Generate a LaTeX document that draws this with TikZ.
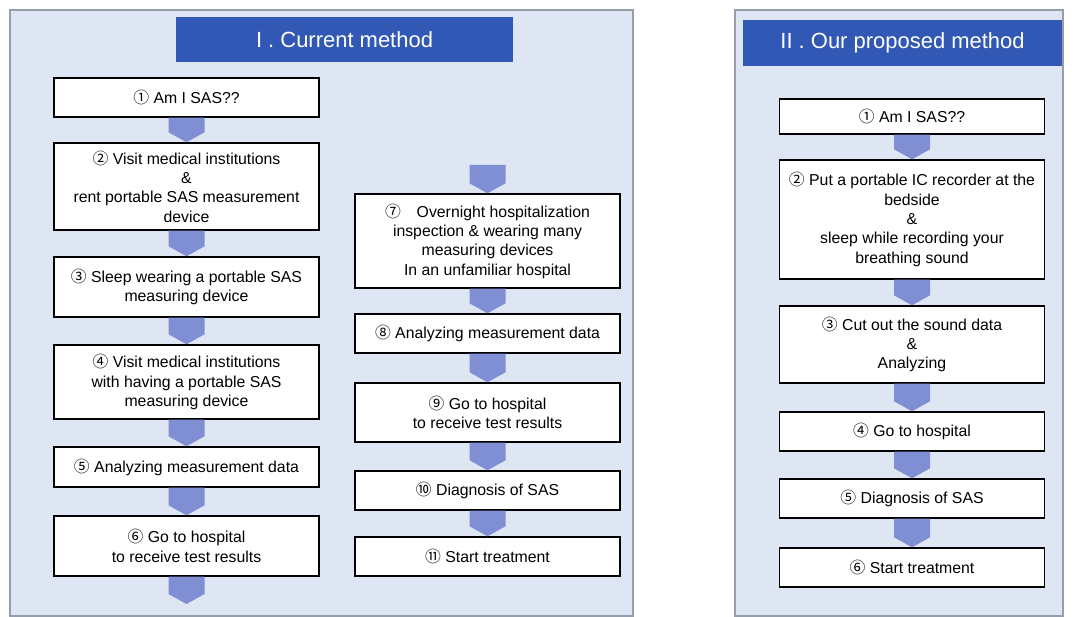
\documentclass[tikz,border=0pt]{standalone}
\usepackage{fontspec}
\setmainfont{Liberation Sans}
\newfontfamily\numfont{Noto Sans CJK JP}
\usetikzlibrary{calc}

\definecolor{barblue}{RGB}{48,88,180}
\definecolor{panelbg}{RGB}{222,230,243}
\definecolor{chevblue}{RGB}{128,142,212}
\definecolor{framegray}{RGB}{150,158,172}

\newcommand{\cn}[1]{{\numfont #1}}
% block arrow from one box down to the next
\newcommand{\chev}[2]{\fill[chevron] ($(#1)+(-18,0)$) -- ($(#1)+(18,0)$) -- ($(#2)+(18,-10)$) -- (#2) -- ($(#2)+(-18,-10)$) -- cycle;}

\tikzset{
  stepbox/.style={draw, thick, fill=white, minimum width=5.3cm, align=center,
    font=\fontsize{9}{11}\selectfont, inner sep=1pt},
  titlebar/.style={fill=barblue, text=white, font=\fontsize{12.5}{14}\selectfont},
  panel/.style={draw=framegray, thick, fill=panelbg},
  chevron/.style={fill=chevblue}
}

\begin{document}
\begin{tikzpicture}[x=0.02cm,y=-0.02cm]
    \useasboundingbox (0,0) rectangle (1078,617);

    % Current method
    \draw[panel] (10,10) rectangle (633,616);
    \node[titlebar, minimum width=6.74cm, minimum height=0.9cm] (t1) at (344.5,39.5) {I . Current method};

    \node[stepbox, minimum height=0.78cm] (l1) at (186.5,97.5) {\cn{①} Am I SAS??};
    \node[stepbox, minimum height=1.74cm] (l2) at (186.5,186.5) {\cn{②} Visit medical institutions\\ \&\\ rent portable SAS measurement\\ device};
    \node[stepbox, minimum height=1.2cm] (l3) at (186.5,287) {\cn{③} Sleep wearing a portable SAS\\ measuring device};
    \node[stepbox, minimum height=1.48cm] (l4) at (186.5,382) {\cn{④} Visit medical institutions\\ with having a portable SAS\\ measuring device};
    \node[stepbox, minimum height=0.8cm] (l5) at (186.5,467) {\cn{⑤} Analyzing measurement data};
    \node[stepbox, minimum height=1.2cm] (l6) at (186.5,546) {\cn{⑥} Go to hospital\\ to receive test results};
    \coordinate (l6end) at (186.5,604);

    \coordinate (l7top) at (487.5,165);
    \node[stepbox, minimum height=1.88cm] (l7) at (487.5,241) {\cn{⑦}\quad Overnight hospitalization\\ inspection \& wearing many\\ measuring devices\\ In an unfamiliar hospital};
    \node[stepbox, minimum height=0.78cm] (l8) at (487.5,333.5) {\cn{⑧} Analyzing measurement data};
    \node[stepbox, minimum height=1.18cm] (l9) at (487.5,412.5) {\cn{⑨} Go to hospital\\ to receive test results};
    \node[stepbox, minimum height=0.78cm] (l10) at (487.5,490.5) {\cn{⑩} Diagnosis of SAS};
    \node[stepbox, minimum height=0.78cm] (l11) at (487.5,556.5) {\cn{⑪} Start treatment};

    \chev{l1.south}{l2.north}
    \chev{l2.south}{l3.north}
    \chev{l3.south}{l4.north}
    \chev{l4.south}{l5.north}
    \chev{l5.south}{l6.north}
    \chev{l6.south}{l6end}
    \chev{l7top}{l7.north}
    \chev{l7.south}{l8.north}
    \chev{l8.south}{l9.north}
    \chev{l9.south}{l10.north}
    \chev{l10.south}{l11.north}

    % Proposed method
    \draw[panel] (735,10) rectangle (1063,616);
    \node[titlebar, minimum width=6.38cm, minimum height=0.92cm] (t2) at (902.5,43) {II . Our proposed method};

    \node[stepbox, minimum height=0.7cm] (r1) at (912,116.5) {\cn{①} Am I SAS??};
    \node[stepbox, minimum height=2.38cm] (r2) at (912,219.5) {\cn{②} Put a portable IC recorder at the\\ bedside\\ \&\\ sleep while recording your\\ breathing sound};
    \node[stepbox, minimum height=1.54cm] (r3) at (912,344.5) {\cn{③} Cut out the sound data\\ \&\\ Analyzing};
    \node[stepbox, minimum height=0.78cm] (r4) at (912,431.5) {\cn{④} Go to hospital};
    \node[stepbox, minimum height=0.78cm] (r5) at (912,498.5) {\cn{⑤} Diagnosis of SAS};
    \node[stepbox, minimum height=0.78cm] (r6) at (912,567.5) {\cn{⑥} Start treatment};

    \chev{r1.south}{r2.north}
    \chev{r2.south}{r3.north}
    \chev{r3.south}{r4.north}
    \chev{r4.south}{r5.north}
    \chev{r5.south}{r6.north}
\end{tikzpicture}
\end{document}
